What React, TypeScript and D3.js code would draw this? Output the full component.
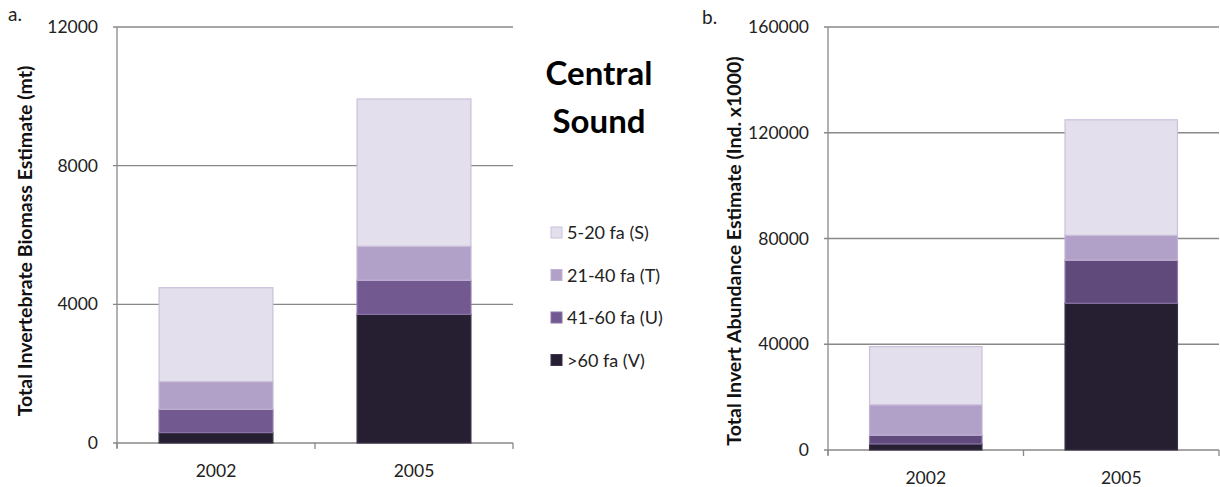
import React from "react";
import * as d3 from "d3";

const years = ["2002", "2005"];
const seriesNames = ["5-20 fa (S)", "21-40 fa (T)", "41-60 fa (U)", ">60 fa (V)"];
const seriesKeys = ["V", "U", "T", "S"];
// Biomass (mt)
const biomassV = [300, 3710];
const biomassU = [670, 985];
const biomassT = [800, 980];
const biomassS = [2710, 4250];
// Abundance (Ind. x1000)
const abundV = [2300, 55500];
const abundU = [3300, 16300];
const abundT = [11500, 9400];
const abundS = [22000, 43700];

const biomassTicks = [0, 4000, 8000, 12000];
const abundTicks = [0, 40000, 80000, 120000, 160000];

const colorsA: Record<string, string> = { S: "#e4dfec", T: "#b1a0c7", U: "#725a91", V: "#261e31" };
const colorsB: Record<string, string> = { S: "#e4dfec", T: "#b1a0c7", U: "#604a7b", V: "#261e31" };
const strokes: Record<string, string> = { S: "#cbbfdb", T: "#c0b2d3", U: "#8a74a8", V: "#3c3348" };
const legendColors = ["#e4dfec", "#b1a0c7", "#725a91", "#261e31"];
const legendStrokes = ["#ccc0da", "#c0b2d3", "#8a74a8", "#3c3348"];

const FONT = "Lato, 'Open Sans', sans-serif";
const AXIS = "#888888";

type PanelProps = {
  x0: number; x1: number; y0: number; y1: number; max: number;
  ticks: number[]; data: Record<string, number[]>; colors: Record<string, string>;
  title: string; titleX: number; titleY: number; letter: string; letterX: number; letterY: number;
};

function Panel(p: PanelProps) {
  const y = d3.scaleLinear().domain([0, p.max]).range([p.y1, p.y0]);
  const x = d3.scaleBand().domain(years).range([p.x0, p.x1]).paddingInner(0).paddingOuter(0);
  const barW = x.bandwidth() * 0.575;
  const stackData = years.map((yr, i) => {
    const o: any = { year: yr };
    seriesKeys.forEach((k) => (o[k] = p.data[k][i]));
    return o;
  });
  const stacked = d3.stack().keys(seriesKeys)(stackData);
  return (
    <g>
      <text x={p.letterX} y={p.letterY} fontFamily={FONT} fontSize={19} fill="#222">{p.letter}</text>
      {p.ticks.map((t) => (
        <g key={t}>
          <line x1={p.x0 - 4} x2={p.x1} y1={y(t)} y2={y(t)} stroke={AXIS} strokeWidth={1.3} />
          <text x={p.x0 - 19} y={y(t)} dy="0.35em" textAnchor="end" fontFamily={FONT} fontSize={17.5} fill="#222">{t}</text>
        </g>
      ))}
      <line x1={p.x0} x2={p.x0} y1={p.y0} y2={p.y1 + 5} stroke={AXIS} strokeWidth={1.3} />
      {[...years.map((yr) => x(yr) as number), p.x1].map((xx, i) => (
        <line key={i} x1={xx} x2={xx} y1={p.y1} y2={p.y1 + 6} stroke={AXIS} strokeWidth={1.3} />
      ))}
      {stacked.map((layer) =>
        layer.map((d, i) => {
          const cx = (x(years[i]) as number) + x.bandwidth() / 2;
          return (
            <rect key={layer.key + i} x={cx - barW / 2} width={barW} y={y(d[1])} height={y(d[0]) - y(d[1])}
              fill={p.colors[layer.key]} stroke={strokes[layer.key]} strokeWidth={1.2} />
          );
        })
      )}
      {years.map((yr) => (
        <text key={yr} x={(x(yr) as number) + x.bandwidth() / 2} y={p.y1 + 34} textAnchor="middle" fontFamily={FONT} fontSize={17.5} fill="#222">{yr}</text>
      ))}
      <text transform={`translate(${p.titleX},${p.titleY}) rotate(-90)`} textAnchor="middle" fontFamily={FONT} fontSize={19.5} fontWeight="bold" fill="#111">{p.title}</text>
    </g>
  );
}

export default function App() {
  return (
    <svg width={1220} height={487} style={{ position: "absolute", left: 0, top: 0, background: "#fff" }}>
      <Panel x0={117} x1={513} y0={27} y1={443} max={12000} ticks={biomassTicks}
        data={{ V: biomassV, U: biomassU, T: biomassT, S: biomassS }} colors={colorsA}
        title="Total Invertebrate Biomass Estimate (mt)" titleX={32} titleY={241}
        letter="a." letterX={8} letterY={21} />
      <Panel x0={828} x1={1219} y0={27} y1={450} max={160000} ticks={abundTicks}
        data={{ V: abundV, U: abundU, T: abundT, S: abundS }} colors={colorsB}
        title="Total Invert Abundance Estimate (Ind. x1000)" titleX={741} titleY={251}
        letter="b." letterX={702} letterY={24} />
      <text x={599} y={85} textAnchor="middle" fontFamily={FONT} fontSize={33} fontWeight="bold" fill="#000">Central</text>
      <text x={599} y={133} textAnchor="middle" fontFamily={FONT} fontSize={33} fontWeight="bold" fill="#000">Sound</text>
      {seriesNames.map((n, i) => (
        <g key={n}>
          <rect x={551} y={227 + i * 42.5} width={11} height={11} fill={legendColors[i]} stroke={legendStrokes[i]} strokeWidth={1} />
          <text x={567} y={233 + i * 42.5} dy="0.35em" fontFamily={FONT} fontSize={18} fill="#222">{n}</text>
        </g>
      ))}
    </svg>
  );
}
